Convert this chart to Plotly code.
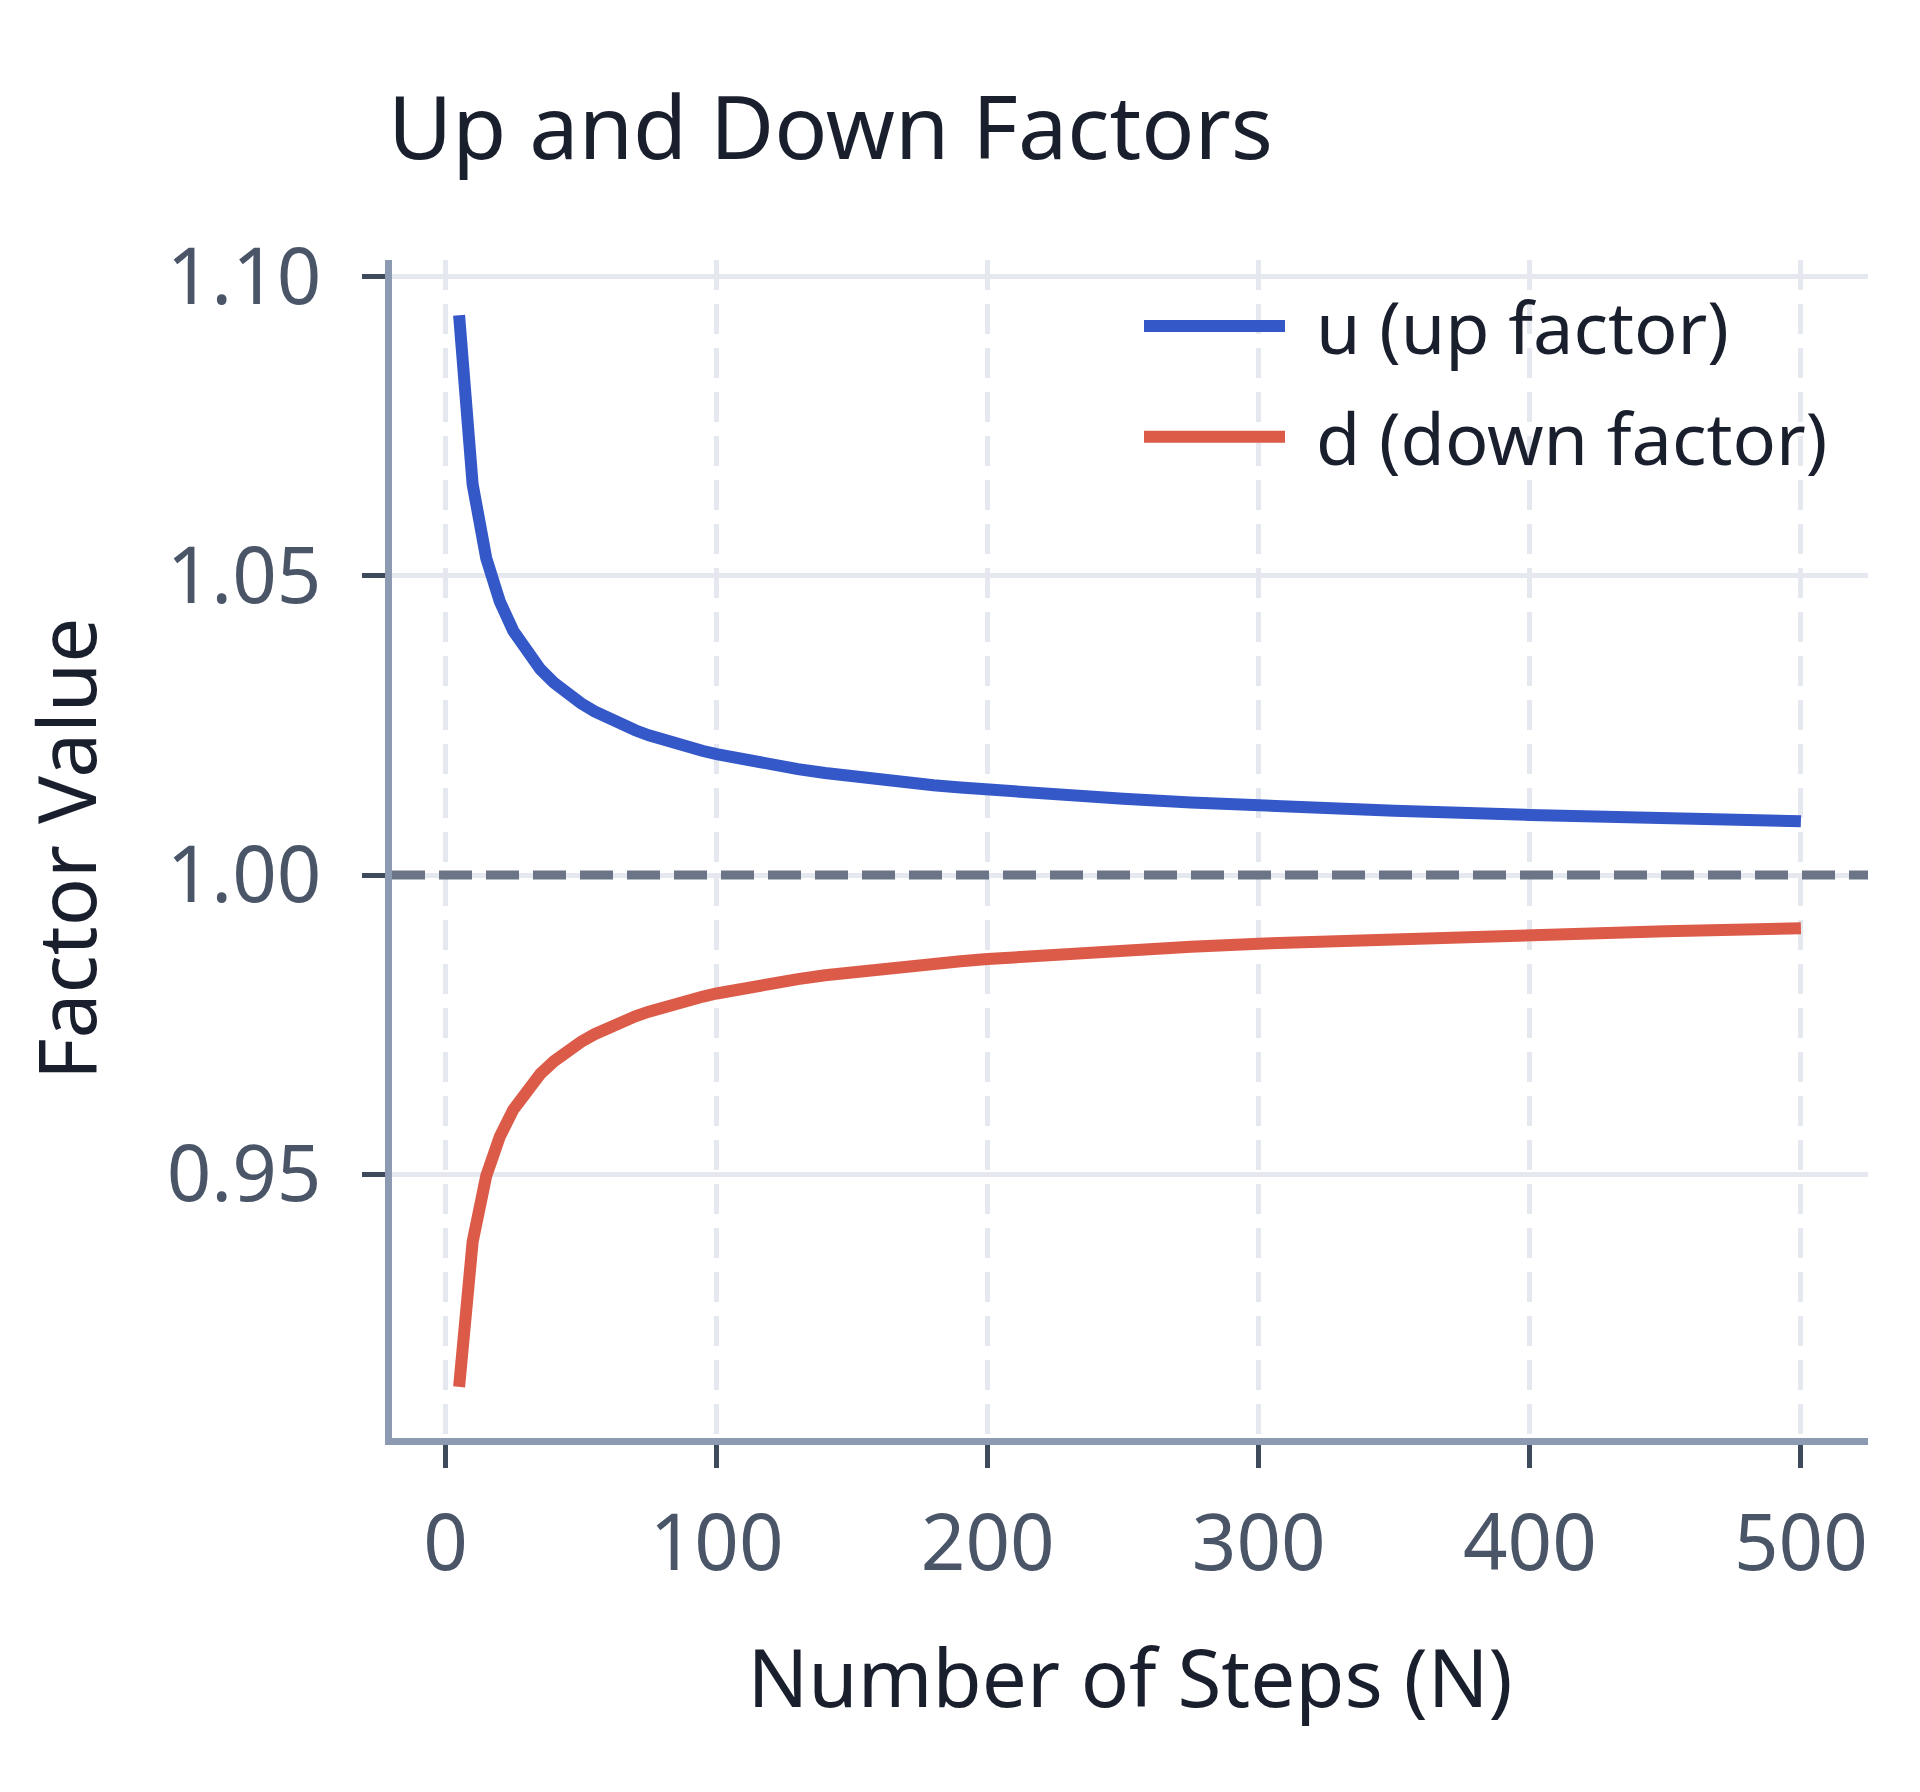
import plotly.graph_objects as go

# values
steps = [5, 10, 15, 20, 25, 30, 35, 40, 45, 50,
         55, 60, 65, 70, 75, 80, 85, 90, 95, 100,
         110, 120, 130, 140, 150, 160, 170, 180, 190, 200,
         225, 250, 275, 300, 350, 400, 450, 500]
up_factor = [1.09357, 1.06529, 1.05300, 1.04574, 1.04081, 1.03719, 1.03438, 1.03213, 1.03026, 1.02869,
             1.02734, 1.02616, 1.02512, 1.02419, 1.02336, 1.02261, 1.02193, 1.02131, 1.02073, 1.02020,
             1.01925, 1.01842, 1.01770, 1.01705, 1.01646, 1.01594, 1.01546, 1.01502, 1.01462, 1.01424,
             1.01342, 1.01273, 1.01213, 1.01161, 1.01075, 1.01005, 1.00947, 1.00898]
down_factor = [0.91444, 0.93871, 0.94967, 0.95626, 0.96079, 0.96414, 0.96676, 0.96887, 0.97063, 0.97211,
               0.97339, 0.97451, 0.97550, 0.97638, 0.97717, 0.97789, 0.97854, 0.97914, 0.97969, 0.98020,
               0.98111, 0.98191, 0.98261, 0.98324, 0.98380, 0.98431, 0.98478, 0.98520, 0.98559, 0.98596,
               0.98676, 0.98743, 0.98801, 0.98852, 0.98937, 0.99005, 0.99062, 0.99110]
x_ticks = [0, 100, 200, 300, 400, 500]
y_ticks = [0.95, 1.00, 1.05, 1.10]
y_tick_text = ["0.95", "1.00", "1.05", "1.10"]

BLUE = "#3558c8"
RED = "#dc5a48"
FONT = "Noto Sans"
W, H = 1920, 1792
L, R, T, B = 384, 60, 252, 362
PW = W - L - R

fig = go.Figure()
fig.add_trace(go.Scatter(x=steps, y=up_factor, mode="lines", name="u (up factor)",
                         line=dict(color=BLUE, width=12), showlegend=False))
fig.add_trace(go.Scatter(x=steps, y=down_factor, mode="lines", name="d (down factor)",
                         line=dict(color=RED, width=12), showlegend=False))

# reference line at 1.0
fig.add_hline(y=1.0, line=dict(color="#6b7587", width=9, dash="33px,14px"), layer="above")

# hand-made legend with long line samples
legend_items = [("u (up factor)", BLUE, 0.944), ("d (down factor)", RED, 0.850)]
for text, col, ly in legend_items:
    fig.add_shape(type="line", xref="paper", yref="paper",
                  x0=(1136 - L) / PW, x1=(1277 - L) / PW, y0=ly, y1=ly,
                  line=dict(color=col, width=12))
    fig.add_annotation(xref="paper", yref="paper", x=(1306 - L) / PW, y=ly, text=text,
                       showarrow=False, xanchor="left", yanchor="middle",
                       font=dict(family=FONT, size=72, color="#1a1f2e"))

# y axis title placed by hand so it sits where the reference has it
fig.add_annotation(xref="paper", yref="paper", x=(56 - L) / PW, y=0.5,
                   text="Factor Value", textangle=-90, showarrow=False,
                   xanchor="center", yanchor="middle",
                   font=dict(family=FONT, size=80, color="#1a1f2e"))

axis_common = dict(
    showline=True, linecolor="#8c9bb2", linewidth=7,
    ticks="outside", ticklen=23, tickwidth=5, tickcolor="#3d4a5c",
    tickfont=dict(family=FONT, size=78, color="#4a5568"),
    gridcolor="#e5e8ef", gridwidth=5, zeroline=False,
)

fig.update_xaxes(
    range=[-19.75, 524.75], tickvals=x_ticks, griddash="30px,14px",
    title=dict(text="Number of Steps (N)", standoff=62,
               font=dict(family=FONT, size=80, color="#1a1f2e")),
    ticklabelstandoff=8,
    **axis_common,
)
fig.update_yaxes(
    range=[0.9059, 1.1028], tickvals=y_ticks, ticktext=y_tick_text,
    ticklabelstandoff=25,
    **axis_common,
)

fig.update_layout(
    width=W, height=H,
    margin=dict(l=L, r=R, t=T, b=B),
    plot_bgcolor="white", paper_bgcolor="white",
    title=dict(text="Up and Down Factors", x=380 / W, xanchor="left",
               y=1 - 120 / H, yanchor="middle", xref="container", yref="container",
               font=dict(family=FONT, size=88, color="#1a1f2e")),
    font=dict(family=FONT),
)

fig.write_html("out.html")
